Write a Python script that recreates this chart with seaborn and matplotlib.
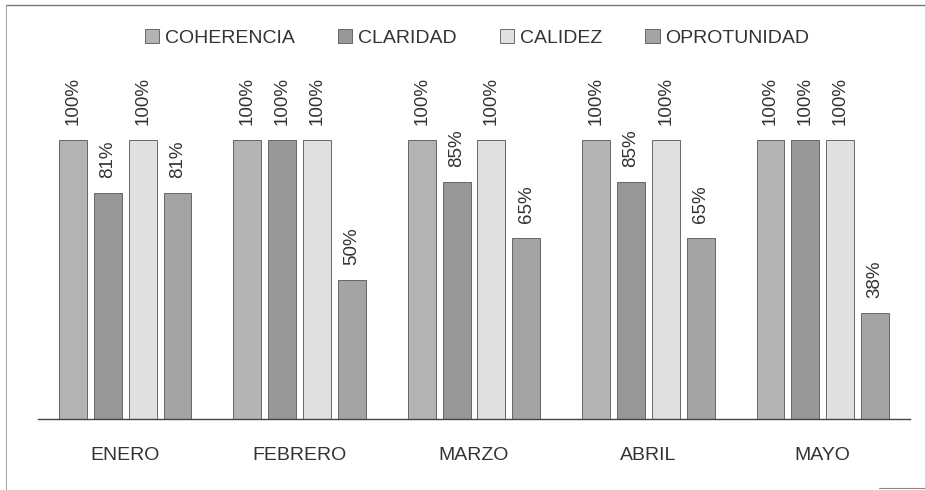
import matplotlib
matplotlib.use("Agg")
import matplotlib.pyplot as plt
import seaborn as sns
import pandas as pd
from matplotlib.patches import Patch
from matplotlib.lines import Line2D

meses = ["ENERO", "FEBRERO", "MARZO", "ABRIL", "MAYO"]
criterios = ["COHERENCIA", "CLARIDAD", "CALIDEZ", "OPROTUNIDAD"]
coherencia = [100, 100, 100, 100, 100]
claridad = [81, 100, 85, 85, 100]
calidez = [100, 100, 100, 100, 100]
oprotunidad = [81, 50, 65, 65, 38]

series = {"COHERENCIA": coherencia, "CLARIDAD": claridad,
          "CALIDEZ": calidez, "OPROTUNIDAD": oprotunidad}
rows = []
for c in criterios:
    for m, v in zip(meses, series[c]):
        rows.append({"mes": m, "criterio": c, "valor": v})
df = pd.DataFrame(rows)

colors = ["#b4b4b4", "#979797", "#e0e0e0", "#a4a4a4"]

sns.set_theme(style="white")
plt.rcParams["font.family"] = ["Liberation Sans", "DejaVu Sans"]

fig = plt.figure(figsize=(9.25, 4.9), dpi=100)
ax = fig.add_axes([38 / 925, 71 / 490, 872 / 925, 359 / 490])

sns.barplot(data=df, x="mes", y="valor", hue="criterio", order=meses,
            hue_order=criterios, palette=colors, width=0.8, gap=0.2,
            edgecolor="#666666", linewidth=0.7, ax=ax, legend=False)

for cont in ax.containers:
    ax.bar_label(cont, labels=[f"{int(v)}%" for v in cont.datavalues],
                 rotation=90, padding=10.5, fontsize=13.5, color="#333333")

ax.set_ylim(0, 128.7)
ax.set_xlim(-0.5, 4.5)
ax.set_yticks([])
ax.set_xlabel("")
ax.set_ylabel("")
for s in ["left", "right", "top"]:
    ax.spines[s].set_visible(False)
ax.spines["bottom"].set_color("#444444")
ax.spines["bottom"].set_linewidth(1.0)
ax.tick_params(axis="x", length=0, pad=20, labelsize=14, labelcolor="#333333")

handles = [Patch(facecolor=c, edgecolor="#555555", linewidth=0.6) for c in colors]
fig.legend(handles, criterios, loc="center", bbox_to_anchor=(477 / 925, 1 - 38 / 490),
           ncol=4, frameon=False, fontsize=14, handlelength=0.75,
           handleheight=0.75, handletextpad=0.3, columnspacing=2.2,
           labelcolor="#333333")

fig.lines.extend([
    Line2D([6 / 925, 1], [1 - 5 / 490, 1 - 5 / 490], transform=fig.transFigure,
           color="#777777", linewidth=1.0),
    Line2D([6 / 925, 6 / 925], [0, 1 - 5 / 490], transform=fig.transFigure,
           color="#aaaaaa", linewidth=0.8),
    Line2D([879 / 925, 1], [2 / 490, 2 / 490], transform=fig.transFigure,
           color="#888888", linewidth=0.8),
])

fig.savefig("out.png", dpi=100)
